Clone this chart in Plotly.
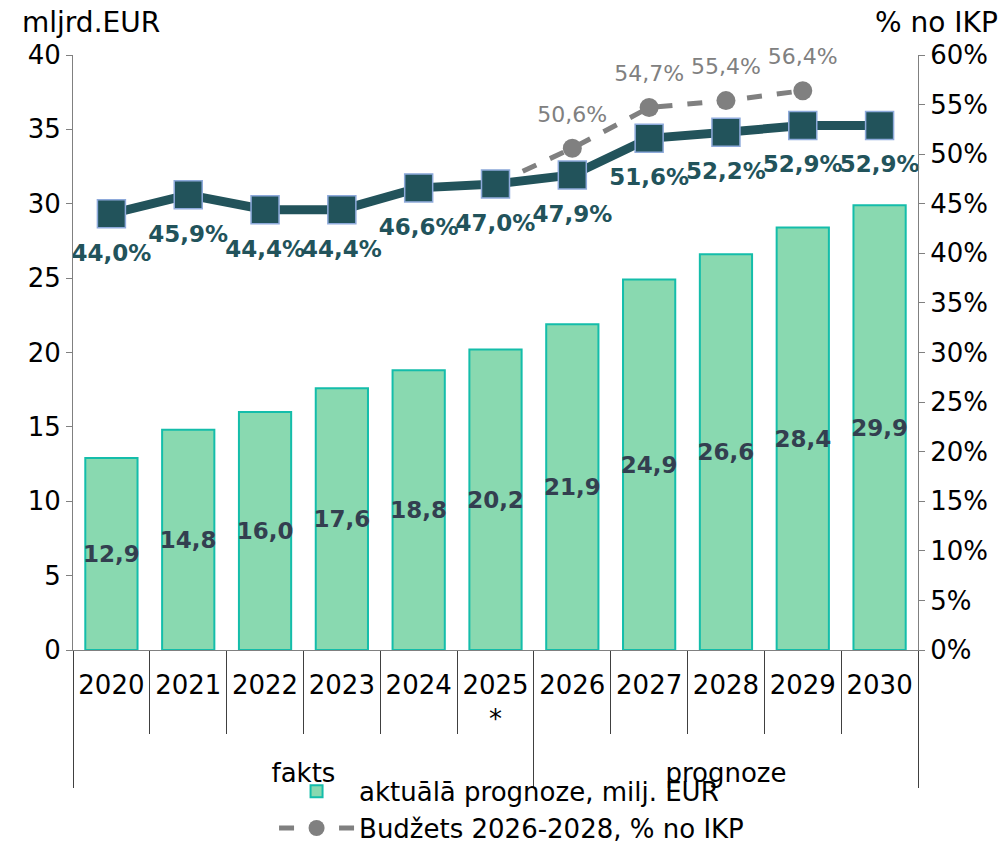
import plotly.graph_objects as go

years = ["2020", "2021", "2022", "2023", "2024", "2025<br>*<br>\u00a0", "2026", "2027", "2028", "2029", "2030"]
periods = ["fakts"] * 6 + ["prognoze"] * 5
bar_vals = [12.9, 14.8, 16.0, 17.6, 18.8, 20.2, 21.9, 24.9, 26.6, 28.4, 29.9]
pct_vals = [44.0, 45.9, 44.4, 44.4, 46.6, 47.0, 47.9, 51.6, 52.2, 52.9, 52.9]
budget_vals = [None, None, None, None, None, 47.0, 50.6, 54.7, 55.4, 56.4, None]
budget_text = ["", "", "", "", "", "", "50,6%", "54,7%", "55,4%", "56,4%", ""]

FONT = "DejaVu Sans"
x = [periods, years]

fig = go.Figure()
fig.add_trace(go.Bar(
    x=x, y=bar_vals,
    name="aktuālā prognoze, milj. EUR",
    marker=dict(color="#89D9B0", line=dict(color="#14BDAA", width=2)),
    texttemplate="<b>%{y:.1f}</b>", textposition="inside", textangle=0,
    insidetextanchor="middle", constraintext="none",
    textfont=dict(family=FONT, size=23, color="#333F50"),
    yaxis="y",
))
fig.add_trace(go.Scatter(
    x=x, y=budget_vals,
    name="Budžets 2026-2028, % no IKP",
    mode="lines+markers",
    line=dict(color="#808080", width=5, dash="dash"),
    marker=dict(symbol="circle", size=19, color="#808080"),
    yaxis="y2", connectgaps=False,
))
fig.add_trace(go.Scatter(
    x=x, y=budget_vals,
    mode="markers+text",
    marker=dict(size=32, color="rgba(0,0,0,0)"),
    text=budget_text, textposition="top center", cliponaxis=False,
    textfont=dict(family=FONT, size=22, color="#808080"),
    yaxis="y2", showlegend=False, hoverinfo="skip",
))
fig.add_trace(go.Scatter(
    x=x, y=pct_vals,
    name="% no IKP",
    mode="lines+markers",
    line=dict(color="#22535B", width=9),
    marker=dict(symbol="square", size=28, color="#22535B",
                line=dict(color="#8EAADB", width=1.5)),
    yaxis="y2", showlegend=False,
))
fig.add_trace(go.Scatter(
    x=x, y=pct_vals,
    mode="markers+text",
    marker=dict(size=46, color="rgba(0,0,0,0)"),
    texttemplate="<b>%{y:.1f}%</b>", textposition="bottom center", cliponaxis=False,
    textfont=dict(family=FONT, size=23, color="#22535B"),
    yaxis="y2", showlegend=False, hoverinfo="skip",
))

# page body keeps an 8px margin, so the paper is a bit larger than the window
fig.update_layout(
    width=1000, height=860,
    separators=", ",
    paper_bgcolor="white", plot_bgcolor="white",
    font=dict(family=FONT, size=26, color="black"),
    margin=dict(l=65, r=90, t=47, b=218),
    bargap=0.32,
    showlegend=True,
    legend=dict(orientation="v", x=0.519, xanchor="center",
                y=-0.198, yanchor="top",
                font=dict(family=FONT, size=26), tracegroupgap=0, itemwidth=75,
                bgcolor="rgba(0,0,0,0)"),
    xaxis=dict(
        type="multicategory", range=[-0.5, 10.5], autorange=False,
        showline=True, linecolor="#808080", linewidth=1,
        ticks="outside", tickson="boundaries", ticklen=83, tickcolor="#404040",
        ticklabelstandoff=12,
        showdividers=True, dividercolor="#404040", dividerwidth=1,
        tickfont=dict(family=FONT, size=26),
        showgrid=False,
    ),
    yaxis=dict(
        range=[0, 40], dtick=5, showgrid=False, zeroline=False,
        showline=True, linecolor="#808080", ticks="outside", ticklen=6,
        tickcolor="#808080", tickfont=dict(family=FONT, size=26),
    ),
    yaxis2=dict(
        range=[0, 60], dtick=5, ticksuffix="%", overlaying="y", side="right",
        showgrid=False, zeroline=False,
        showline=True, linecolor="#808080", ticks="outside", ticklen=6,
        tickcolor="#808080", tickfont=dict(family=FONT, size=26),
    ),
    annotations=[
        dict(text="mljrd.EUR", xref="paper", yref="paper", x=-0.063, y=1.055,
             xanchor="left", yanchor="middle", showarrow=False,
             font=dict(family=FONT, size=28)),
        dict(text="% no IKP", xref="paper", yref="paper", x=1.097, y=1.055,
             xanchor="right", yanchor="middle", showarrow=False,
             font=dict(family=FONT, size=28)),
    ],
)

fig.write_html("out.html")
